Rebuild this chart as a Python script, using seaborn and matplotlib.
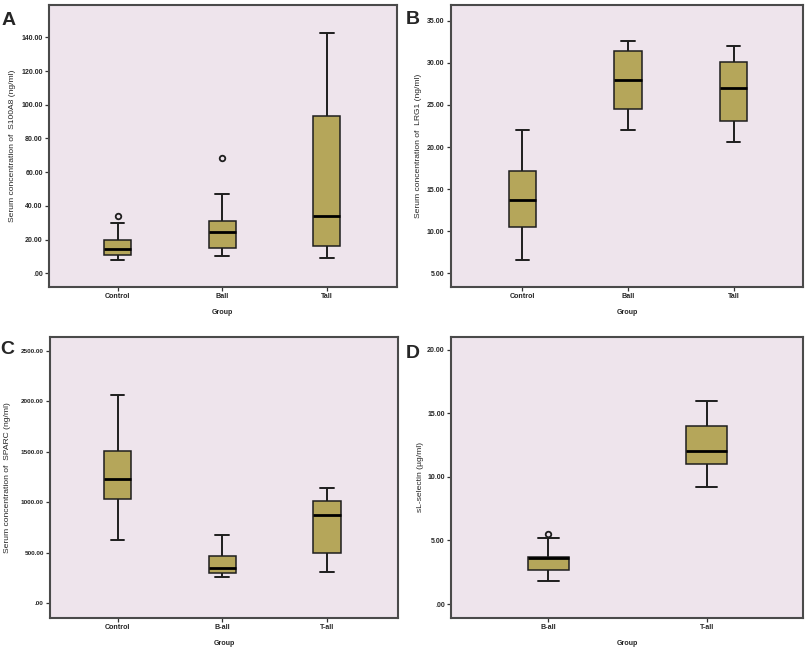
import numpy as np
import pandas as pd
import matplotlib
matplotlib.use("Agg")
import matplotlib.pyplot as plt
import matplotlib.ticker as ticker
import seaborn as sns

# five-number summaries (plus outliers)
s100a8_groups = ["Control", "Ball", "Tall"]
s100a8_low = [8.1, 10.3, 8.9]
s100a8_q1 = [11.1, 15.0, 16.0]
s100a8_med = [14.2, 24.5, 34.0]
s100a8_q3 = [20.0, 31.0, 93.3]
s100a8_high = [29.8, 46.9, 142.8]
s100a8_out = [[33.8], [68.4], []]

lrg1_groups = ["Control", "Ball", "Tall"]
lrg1_low = [6.6, 22.05, 20.6]
lrg1_q1 = [10.46, 24.55, 23.1]
lrg1_med = [13.67, 27.9, 27.0]
lrg1_q3 = [17.18, 31.43, 30.05]
lrg1_high = [22.0, 32.55, 31.95]
lrg1_out = [[], [], []]

sparc_groups = ["Control", "B-all", "T-all"]
sparc_low = [629, 263, 307]
sparc_q1 = [1032, 303, 495]
sparc_med = [1230, 349, 874]
sparc_q3 = [1504, 465, 1016]
sparc_high = [2064, 679, 1142]
sparc_out = [[], [], []]

sel_groups = ["B-all", "T-all"]
sel_low = [1.84, 9.21]
sel_q1 = [2.71, 11.03]
sel_med = [3.63, 12.03]
sel_q3 = [3.73, 14.03]
sel_high = [5.19, 16.0]
sel_out = [[5.5], []]

BG = "#EEE4EC"
BOX = "#B5A65A"
EDGE = "#1E1E1E"


def makeFrame(groups, low, q1, med, q3, high, out):
    # rows whose quartiles / whiskers reproduce the read summary
    rows = []
    for i, g in enumerate(groups):
        vals = [low[i], q1[i], q1[i], med[i], med[i], q3[i], q3[i], high[i]] + out[i]
        for v in vals:
            rows.append([g, v])
    return pd.DataFrame(rows, columns=["Group", "Value"])


def fmt(v, pos):
    s = "%.2f" % v
    if s.startswith("0."):
        s = s[1:]
    return s


def makePanel(ax, df, groups, ylabel, ylim, yticks, xlim, letter, letterPos, labelX, ytickSize=5.0):
    sns.boxplot(data=df, x="Group", y="Value", order=groups, ax=ax,
                color=BOX, saturation=1, width=0.26, linecolor=EDGE, linewidth=1.1,
                medianprops=dict(color="black", linewidth=2.0),
                whiskerprops=dict(color=EDGE, linewidth=1.4),
                capprops=dict(color=EDGE, linewidth=1.4),
                flierprops=dict(marker="o", markerfacecolor="none", markeredgecolor=EDGE,
                                markersize=4, markeredgewidth=1.3))
    ax.set_facecolor(BG)
    ax.set_xlim(*xlim)
    ax.set_ylim(*ylim)
    ax.set_yticks(yticks)
    ax.yaxis.set_major_formatter(ticker.FuncFormatter(fmt))
    for s in ax.spines.values():
        s.set_visible(True)
        s.set_color("#4a4a4a")
        s.set_linewidth(1.5)
    ax.tick_params(axis="both", direction="out", length=3, width=0.9, color="#333333", pad=1.5)
    ax.tick_params(axis="x", labelsize=5.1)
    ax.tick_params(axis="y", labelsize=ytickSize)
    for lab in ax.get_xticklabels() + ax.get_yticklabels():
        lab.set_fontweight("bold")
    ax.set_xlabel("Group", fontsize=5.1, fontweight="bold")
    ax.xaxis.set_label_coords(0.5, -0.078)
    ax.set_ylabel(ylabel, fontsize=6.1)
    ax.yaxis.set_label_coords(labelX, 0.5)
    fig.text(letterPos[0], letterPos[1], letter, fontsize=14, fontweight="bold",
             va="top", ha="left")


sns.set_style("ticks")
plt.rcParams["font.family"] = ["Liberation Sans", "DejaVu Sans"]

fig = plt.figure(figsize=(8.1, 6.48), dpi=100)
axA = fig.add_axes([0.0605, 0.5576, 0.4293, 0.4351])
axB = fig.add_axes([0.5564, 0.5576, 0.4353, 0.4351])
axC = fig.add_axes([0.0617, 0.0463, 0.4300, 0.4341])
axD = fig.add_axes([0.5568, 0.0463, 0.4350, 0.4341])

dfA = makeFrame(s100a8_groups, s100a8_low, s100a8_q1, s100a8_med, s100a8_q3, s100a8_high, s100a8_out)
dfB = makeFrame(lrg1_groups, lrg1_low, lrg1_q1, lrg1_med, lrg1_q3, lrg1_high, lrg1_out)
dfC = makeFrame(sparc_groups, sparc_low, sparc_q1, sparc_med, sparc_q3, sparc_high, sparc_out)
dfD = makeFrame(sel_groups, sel_low, sel_q1, sel_med, sel_q3, sel_high, sel_out)

makePanel(axA, dfA, s100a8_groups, "Serum concentration of  S100A8 (ng/ml)",
          (-7.9, 159.3), np.arange(0, 141, 20), (-0.657, 2.67), "A", (0.002, 1 - 12 / 648), -0.095)
makePanel(axB, dfB, lrg1_groups, "Serum concentration of  LRG1 (ng/ml)",
          (3.41, 36.9), np.arange(5, 36, 5), (-0.68, 2.66), "B", (406 / 810, 1 - 11 / 648), -0.081)
makePanel(axC, dfC, sparc_groups, "Serum concentration of  SPARC (ng/ml)",
          (-145, 2638), np.arange(0, 2501, 500), (-0.645, 2.68), "C", (0.0, 1 - 341 / 648), -0.112,
          ytickSize=4.6)
makePanel(axD, dfD, sel_groups, "sL-selectin (\u00b5g/ml)",
          (-1.1, 21.03), np.arange(0, 21, 5), (-0.616, 1.611), "D", (406 / 810, 1 - 345 / 648), -0.077)

fig.savefig("out.png", dpi=100, facecolor="white")
